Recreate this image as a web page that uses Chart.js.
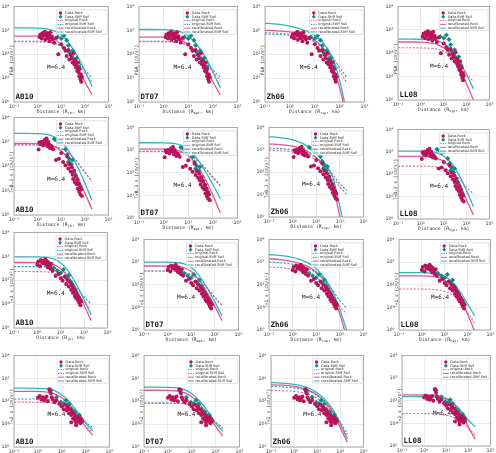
<!DOCTYPE html>
<html>
<head>
<meta charset="utf-8">
<script src="https://cdn.jsdelivr.net/npm/chart.js@4.4.0/dist/chart.umd.min.js"></script>
<style>
  html, body { margin: 0; padding: 0; background: #fff; }
  #wrap { position: relative; width: 496px; height: 453px; overflow: hidden; }
  #wrap canvas { position: absolute; }
</style>
</head>
<body>
<div id="wrap"></div>
<script>
// ---- data ----
const models = ['AB10', 'DT07', 'Zh06', 'LL08'];
const distSub = ['jb', 'epi', 'rup', 'hyp'];
const periods = ['PGA', 'T=0.3 s', 'T=1 s', 'T=2 s'];
const xTicks = [0.1, 1, 10, 100, 1000];
const xTickLabels = ['10\u207B\u00B9', '10\u2070', '10\u00B9', '10\u00B2', '10\u00B3'];
const yTicks = [1, 10, 100, 1000, 10000];
const yTickLabels = ['10\u2070', '10\u00B9', '10\u00B2', '10\u00B3', '10\u2074'];
const legendNames = ['Data-Rock', 'Data-Stiff Soil', 'original-Rock', 'original-Stiff Soil', 'recalibrated-Rock', 'recalibrated-Stiff Soil'];

// recorded data [distance km, amplitude cm/s2], one pair of arrays per row
const rockPGA = [[1.2,520],[1.3,670],[1.5,450],[1.6,760],[1.8,590],[2.0,870],[2.1,400],[2.3,670],[2.5,550],[2.6,760],[2.8,460],[3.0,620],[3.2,350],[3.5,820],[3.7,500],[4.0,560],[4.4,420],[5,300],[6,470],[7.5,100],[10,260],[13,180],[15,140],[17,85],[20,150],[22,60],[25,95],[28,70],[30,45],[33,110],[36,38],[40,55],[42,28],[45,33],[48,20],[52,45],[55,17],[58,12],[60,24],[65,9],[68,14],[70,7],[75,11]];
const stiffPGA = [[2.8,700],[7,520],[10,450],[13,600],[17,380],[20,230],[22,120],[26,90],[30,140],[35,60],[40,45],[45,70],[52,22],[58,30],[62,12]];
const rockT03 = [[1.1,480],[1.2,950],[1.3,800],[1.5,1000],[1.7,700],[1.9,850],[2.0,1200],[2.2,900],[2.4,1350],[2.6,650],[2.8,1000],[3.0,800],[3.3,550],[3.6,700],[4.0,600],[4.5,500],[6,180],[8,200],[10,350],[12,150],[15,110],[18,250],[20,80],[22,120],[25,60],[28,90],[30,45],[32,30],[35,65],[38,22],[40,40],[45,18],[48,28],[50,12],[55,20],[58,9],[62,14],[65,7],[70,11],[75,6]];
const stiffT03 = [[5,1300],[6.5,1100],[8,900],[10,1000],[15,500],[18,300],[20,150],[22,200],[27,120],[30,180],[33,60],[40,45],[48,30],[55,18],[62,14]];
const rockT1 = [[1.0,450],[1.1,600],[1.3,380],[1.4,700],[1.6,520],[1.8,650],[2.0,500],[2.2,750],[2.4,450],[2.6,600],[2.8,350],[3.0,550],[3.3,420],[3.6,300],[4.0,480],[4.5,250],[6,150],[8,180],[10,120],[12,95],[15,140],[17,70],[20,100],[22,55],[25,80],[28,40],[30,60],[33,30],[36,45],[40,22],[42,35],[45,18],[50,25],[55,14],[58,20],[62,11],[66,16],[70,9],[75,13]];
const stiffT1 = [[3.5,380],[5,320],[7,250],[10,200],[13,280],[18,120],[22,160],[26,90],[30,70],[35,50],[40,40],[45,30],[50,25],[58,20]];
const rockT2 = [[1.0,140],[1.2,170],[1.4,120],[1.6,150],[1.8,110],[2.0,130],[2.3,160],[2.6,100],[3.0,330],[3.2,280],[3.5,220],[3.8,150],[4.2,120],[5,90],[6,110],[8,75],[10,60],[12,45],[14,70],[16,40],[18,55],[20,30],[22,45],[25,25],[25,12],[27,35],[30,18],[32,28],[35,15],[38,22],[40,12],[40,9],[45,18],[50,14],[55,20],[60,11],[65,16],[70,13]];
const stiffT2 = [[3.5,300],[6,150],[9,90],[12,80],[15,110],[18,60],[20,75],[25,45],[30,30],[35,35],[40,25],[50,20],[55,25],[62,18],[70,15]];

// model curves, sampled at these distances; one row per period (PGA, 0.3 s, 1 s, 2 s)
const dist = [0.1, 0.3, 1, 2, 3, 5, 10, 20, 50, 100, 200];

const origRockAB10 = [
  [330,330,328,320,310,280,200,115,40,16,7],
  [760,760,755,740,720,670,530,360,140,55,24],
  [230,230,228,225,218,200,150,90,30,12,6],
  [90,90,89,87,85,80,62,40,16,8,4.4]];
const origStiffAB10 = [
  [350,350,348,340,330,300,220,130,50,22,10],
  [740,740,735,720,700,650,520,350,140,56,25],
  [370,370,368,360,350,320,240,140,45,20,10],
  [125,125,124,122,118,110,85,55,22,12,7]];
const recRockAB10 = [
  [570,570,565,540,500,420,260,120,25,7,2],
  [850,850,840,800,750,650,420,200,35,8,1.7],
  [550,550,545,530,500,450,300,150,35,9,2],
  [270,270,267,256,240,210,140,75,22,7.5,3.2]];
const recStiffAB10 = [
  [1250,1250,1230,1180,1100,950,650,320,80,20,4.5],
  [2200,2200,2150,2050,1900,1600,1000,450,90,20,4],
  [950,950,940,910,870,780,520,260,60,15,3.5],
  [370,370,365,350,330,290,190,100,30,11,5.2]];

const origRockDT07 = [
  [330,330,328,322,312,290,220,130,45,18,8],
  [850,850,845,830,810,760,600,400,150,60,25],
  [400,400,398,390,380,350,270,170,65,27,12],
  [80,80,80,79,78,76,65,46,20,11,6.5]];
const origStiffDT07 = [
  [345,345,343,337,327,305,232,140,50,22,11],
  [860,860,855,840,820,770,610,410,160,65,28],
  [400,400,398,392,382,352,272,172,66,28,12],
  [82,82,82,81,80,78,67,48,21,12,7]];
const recRockDT07 = [
  [520,520,515,500,470,400,250,120,27,7,2],
  [1100,1100,1090,1050,1000,880,560,260,50,10,1.7],
  [670,670,665,650,620,560,380,180,40,11,2.6],
  [300,300,297,285,270,235,155,80,24,8,3]];
const recStiffDT07 = [
  [1080,1080,1070,1030,970,850,580,290,75,18,4],
  [2100,2100,2080,2000,1900,1650,1050,500,110,30,7],
  [1000,1000,990,960,920,830,570,280,65,17,4.3],
  [410,410,405,390,370,320,210,110,33,11,5]];

const origRockZh06 = [
  [800,760,680,600,550,460,320,180,60,20,6],
  [950,900,800,700,630,520,350,190,60,22,10],
  [600,560,480,420,380,310,210,110,32,11,5],
  [300,290,265,240,220,190,130,78,28,9,3]];
const origStiffZh06 = [
  [700,670,620,570,530,460,340,200,75,28,10],
  [1200,1130,1000,880,790,650,440,250,80,30,15],
  [1000,930,800,690,620,510,330,180,55,20,9],
  [440,420,380,340,310,260,180,105,38,12,3.7]];
const recRockZh06 = [
  [1000,950,850,750,680,560,380,200,40,4,0.2],
  [1800,1700,1450,1200,1000,780,440,200,30,1,0.05],
  [1400,1280,1050,870,760,600,360,170,35,5,0.4],
  [520,500,440,380,340,280,185,100,30,7,1.6]];
const recStiffZh06 = [
  [2000,1800,1500,1250,1100,900,600,330,80,8,0.3],
  [3900,3500,2800,2200,1800,1300,700,300,60,3,0.1],
  [2150,1950,1600,1300,1100,850,500,230,50,8,0.9],
  [650,620,540,470,420,350,230,130,40,10,2.3]];

const origRockLL08 = [
  [170,170,168,165,160,150,120,80,30,13,6],
  [230,230,228,225,220,210,180,130,60,26,13],
  [65,65,64,63,62,59,50,37,17,6,2],
  [27,27,27,26.5,26,25,23,19,11,6,3]];
const recRockLL08 = [
  [300,300,295,285,270,240,170,90,22,5,1],
  [630,630,625,605,580,520,370,190,38,7,1.5],
  [245,245,243,237,228,210,155,85,22,5,0.9],
  [180,180,178,175,170,160,125,80,25,7,2]];
const recStiffLL08 = [
  [400,400,395,385,370,340,260,150,45,12,3],
  [1070,1070,1060,1030,990,900,650,350,80,18,3.5],
  [340,340,338,330,320,300,230,140,45,14,4.3],
  [150,150,149,147,144,138,115,80,33,14,7]];

// ---- layout: plot boxes [left, top, right, bottom] per row / column ----
const plotBoxes = [
  [[14,5,109,102],[139,5,238,102],[265,5,365,102],[398,5,490,100]],
  [[14,116,109,215],[139,126,238,218],[269,126,364,217],[398,128,490,219]],
  [[14,231,108,328],[144,238,239,330],[269,238,364,330],[399,238,491,330]],
  [[14,354,110,447],[144,354,240,447],[271,354,364,447],[402,354,491,446]]
];
const padL = 16, padT = 6, padR = 5, padB = 13;

const rockColor = '#b8145a';
const stiffColor = '#11888a';
const pinkLine = '#e4559c';
const tealLine = '#2fb8b8';
const pinkDash = '#e06aa6';
const tealDash = '#2a9cb0';

const rows = [[rockPGA, stiffPGA], [rockT03, stiffT03], [rockT1, stiffT1], [rockT2, stiffT2]];
const curves = {
  AB10: [origRockAB10, origStiffAB10, recRockAB10, recStiffAB10],
  DT07: [origRockDT07, origStiffDT07, recRockDT07, recStiffDT07],
  Zh06: [origRockZh06, origStiffZh06, recRockZh06, recStiffZh06],
  LL08: [origRockLL08, null, recRockLL08, recStiffLL08]
};

const toPts = arr => arr.map(p => ({ x: p[0], y: p[1] }));
const curvePts = vals => dist.map((d, i) => ({ x: d, y: vals[i] }));

// legend, labels, frame and axis titles
const deco = {
  id: 'deco',
  afterDraw(chart, args, o) {
    const ctx = chart.ctx, a = chart.chartArea;
    const w = a.right - a.left, h = a.bottom - a.top;
    ctx.save();
    ctx.strokeStyle = '#999';
    ctx.lineWidth = 0.8;
    ctx.strokeRect(a.left, a.top, w, h);

    ctx.fillStyle = '#1a1a1a';
    ctx.textAlign = 'left';
    ctx.textBaseline = 'middle';
    ctx.font = '6px "DejaVu Sans Mono"';
    ctx.fillText('M=6.4', a.left + 0.35 * w, a.top + 0.64 * h);
    ctx.textBaseline = 'alphabetic';
    ctx.font = 'bold 7.5px "DejaVu Sans Mono"';
    ctx.fillText(o.model, a.left + 1.5, a.bottom - 3);

    // x title with subscript
    ctx.fillStyle = '#333';
    const f1 = '4.7px "DejaVu Sans Mono"', f2 = '3.4px "DejaVu Sans Mono"';
    const s1 = 'Distance (R', s2 = o.sub, s3 = ', km)';
    ctx.font = f1; const w1 = ctx.measureText(s1).width, w3 = ctx.measureText(s3).width;
    ctx.font = f2; const w2 = ctx.measureText(s2).width;
    let x = (a.left + a.right) / 2 - (w1 + w2 + w3) / 2, y = a.bottom + 10.5;
    ctx.font = f1; ctx.fillText(s1, x, y); x += w1;
    ctx.font = f2; ctx.fillText(s2, x, y + 1); x += w2;
    ctx.font = f1; ctx.fillText(s3, x, y);

    // y title
    ctx.save();
    ctx.translate(a.left - 2.2, a.top + 0.56 * h);
    ctx.rotate(-Math.PI / 2);
    ctx.textAlign = 'center';
    ctx.textBaseline = 'middle';
    ctx.font = '4.6px "DejaVu Sans Mono"';
    ctx.fillText(o.period + ' (cm/s\u00B2)', 0, 0);
    ctx.restore();

    // legend
    const items = o.model === 'LL08' ? [0, 1, 2, 4, 5] : [0, 1, 2, 3, 4, 5];
    const rh = 3.8;
    const lx0 = a.left + 0.45 * w, lx1 = a.right - 1.5, ly0 = a.top + 3.5;
    ctx.fillStyle = 'rgba(255,255,255,0.85)';
    ctx.fillRect(lx0, ly0, lx1 - lx0, items.length * rh + 1.5);
    ctx.strokeStyle = '#c8c8c8';
    ctx.lineWidth = 0.5;
    ctx.strokeRect(lx0, ly0, lx1 - lx0, items.length * rh + 1.5);
    ctx.font = '3.5px "DejaVu Sans"';
    ctx.textAlign = 'left';
    ctx.textBaseline = 'middle';
    items.forEach((k, i) => {
      const cy = ly0 + 1.2 + rh * (i + 0.5);
      const mx = lx0 + 4;
      if (k === 0) {
        ctx.fillStyle = rockColor;
        ctx.beginPath(); ctx.arc(mx, cy, 1.7, 0, Math.PI * 2); ctx.fill();
      } else if (k === 1) {
        ctx.fillStyle = stiffColor;
        ctx.beginPath(); ctx.moveTo(mx, cy - 2); ctx.lineTo(mx + 2, cy); ctx.lineTo(mx, cy + 2); ctx.lineTo(mx - 2, cy); ctx.closePath(); ctx.fill();
      } else {
        ctx.strokeStyle = [null, null, pinkDash, tealDash, pinkLine, tealLine][k];
        ctx.lineWidth = 1;
        ctx.setLineDash(k < 4 ? [1.5, 1] : []);
        ctx.beginPath(); ctx.moveTo(mx - 3, cy); ctx.lineTo(mx + 3, cy); ctx.stroke();
        ctx.setLineDash([]);
      }
      ctx.fillStyle = '#333';
      ctx.fillText(legendNames[k], lx0 + 8.5, cy);
    });
    ctx.restore();
  }
};

const wrap = document.getElementById('wrap');

periods.forEach((period, r) => {
  models.forEach((model, c) => {
    const [L, T, R, B] = plotBoxes[r][c];
    const cv = document.createElement('canvas');
    const cw = (R - L) + padL + padR, ch = (B - T) + padT + padB;
    cv.width = cw; cv.height = ch;
    cv.style.left = (L - padL) + 'px';
    cv.style.top = (T - padT) + 'px';
    cv.style.width = cw + 'px';
    cv.style.height = ch + 'px';
    wrap.appendChild(cv);

    const [oRock, oStiff, rRock, rStiff] = curves[model];
    const [rockData, stiffData] = rows[r];
    const datasets = [
      { data: toPts(rockData), pointStyle: 'circle', pointRadius: 2, backgroundColor: rockColor, borderWidth: 0, showLine: false },
      { data: toPts(stiffData), pointStyle: 'rectRot', pointRadius: 2.5, backgroundColor: stiffColor, borderWidth: 0, showLine: false },
      { data: curvePts(oRock[r]), showLine: true, borderColor: pinkDash, borderWidth: 1.1, borderDash: [2.2, 1.5], pointRadius: 0, cubicInterpolationMode: 'monotone' }
    ];
    if (oStiff) {
      datasets.push({ data: curvePts(oStiff[r]), showLine: true, borderColor: tealDash, borderWidth: 1.1, borderDash: [2.2, 1.5], pointRadius: 0, cubicInterpolationMode: 'monotone' });
    }
    datasets.push({ data: curvePts(rRock[r]), showLine: true, borderColor: pinkLine, borderWidth: 1.3, pointRadius: 0, cubicInterpolationMode: 'monotone' });
    datasets.push({ data: curvePts(rStiff[r]), showLine: true, borderColor: tealLine, borderWidth: 1.3, pointRadius: 0, cubicInterpolationMode: 'monotone' });

    new Chart(cv.getContext('2d'), {
      type: 'scatter',
      data: { datasets },
      options: {
        responsive: false,
        animation: false,
        devicePixelRatio: 1,
        layout: { padding: { left: 0, top: padT, right: padR, bottom: 0 } },
        plugins: {
          legend: { display: false },
          tooltip: { enabled: false },
          deco: { model, period, sub: distSub[c] }
        },
        scales: {
          x: {
            type: 'logarithmic', min: 0.1, max: 1000,
            afterBuildTicks: s => { s.ticks = xTicks.map(v => ({ value: v })); },
            afterFit: s => { s.height = padB; },
            grid: { color: '#e3e3e3', lineWidth: 0.7, drawTicks: false },
            border: { display: false },
            ticks: {
              font: { size: 4.8, family: 'DejaVu Sans' }, color: '#333', padding: 1.5,
              maxRotation: 0, autoSkip: false,
              callback: (v, i) => xTickLabels[i]
            }
          },
          y: {
            type: 'logarithmic', min: 1, max: 10000,
            afterBuildTicks: s => { s.ticks = yTicks.map(v => ({ value: v })); },
            afterFit: s => { s.width = padL; },
            grid: { color: '#e3e3e3', lineWidth: 0.7, drawTicks: false },
            border: { display: false },
            ticks: {
              font: { size: 4.8, family: 'DejaVu Sans' }, color: '#333', padding: 4.5,
              autoSkip: false,
              callback: (v, i) => yTickLabels[i]
            }
          }
        }
      },
      plugins: [deco]
    });
  });
});
</script>
</body>
</html>
